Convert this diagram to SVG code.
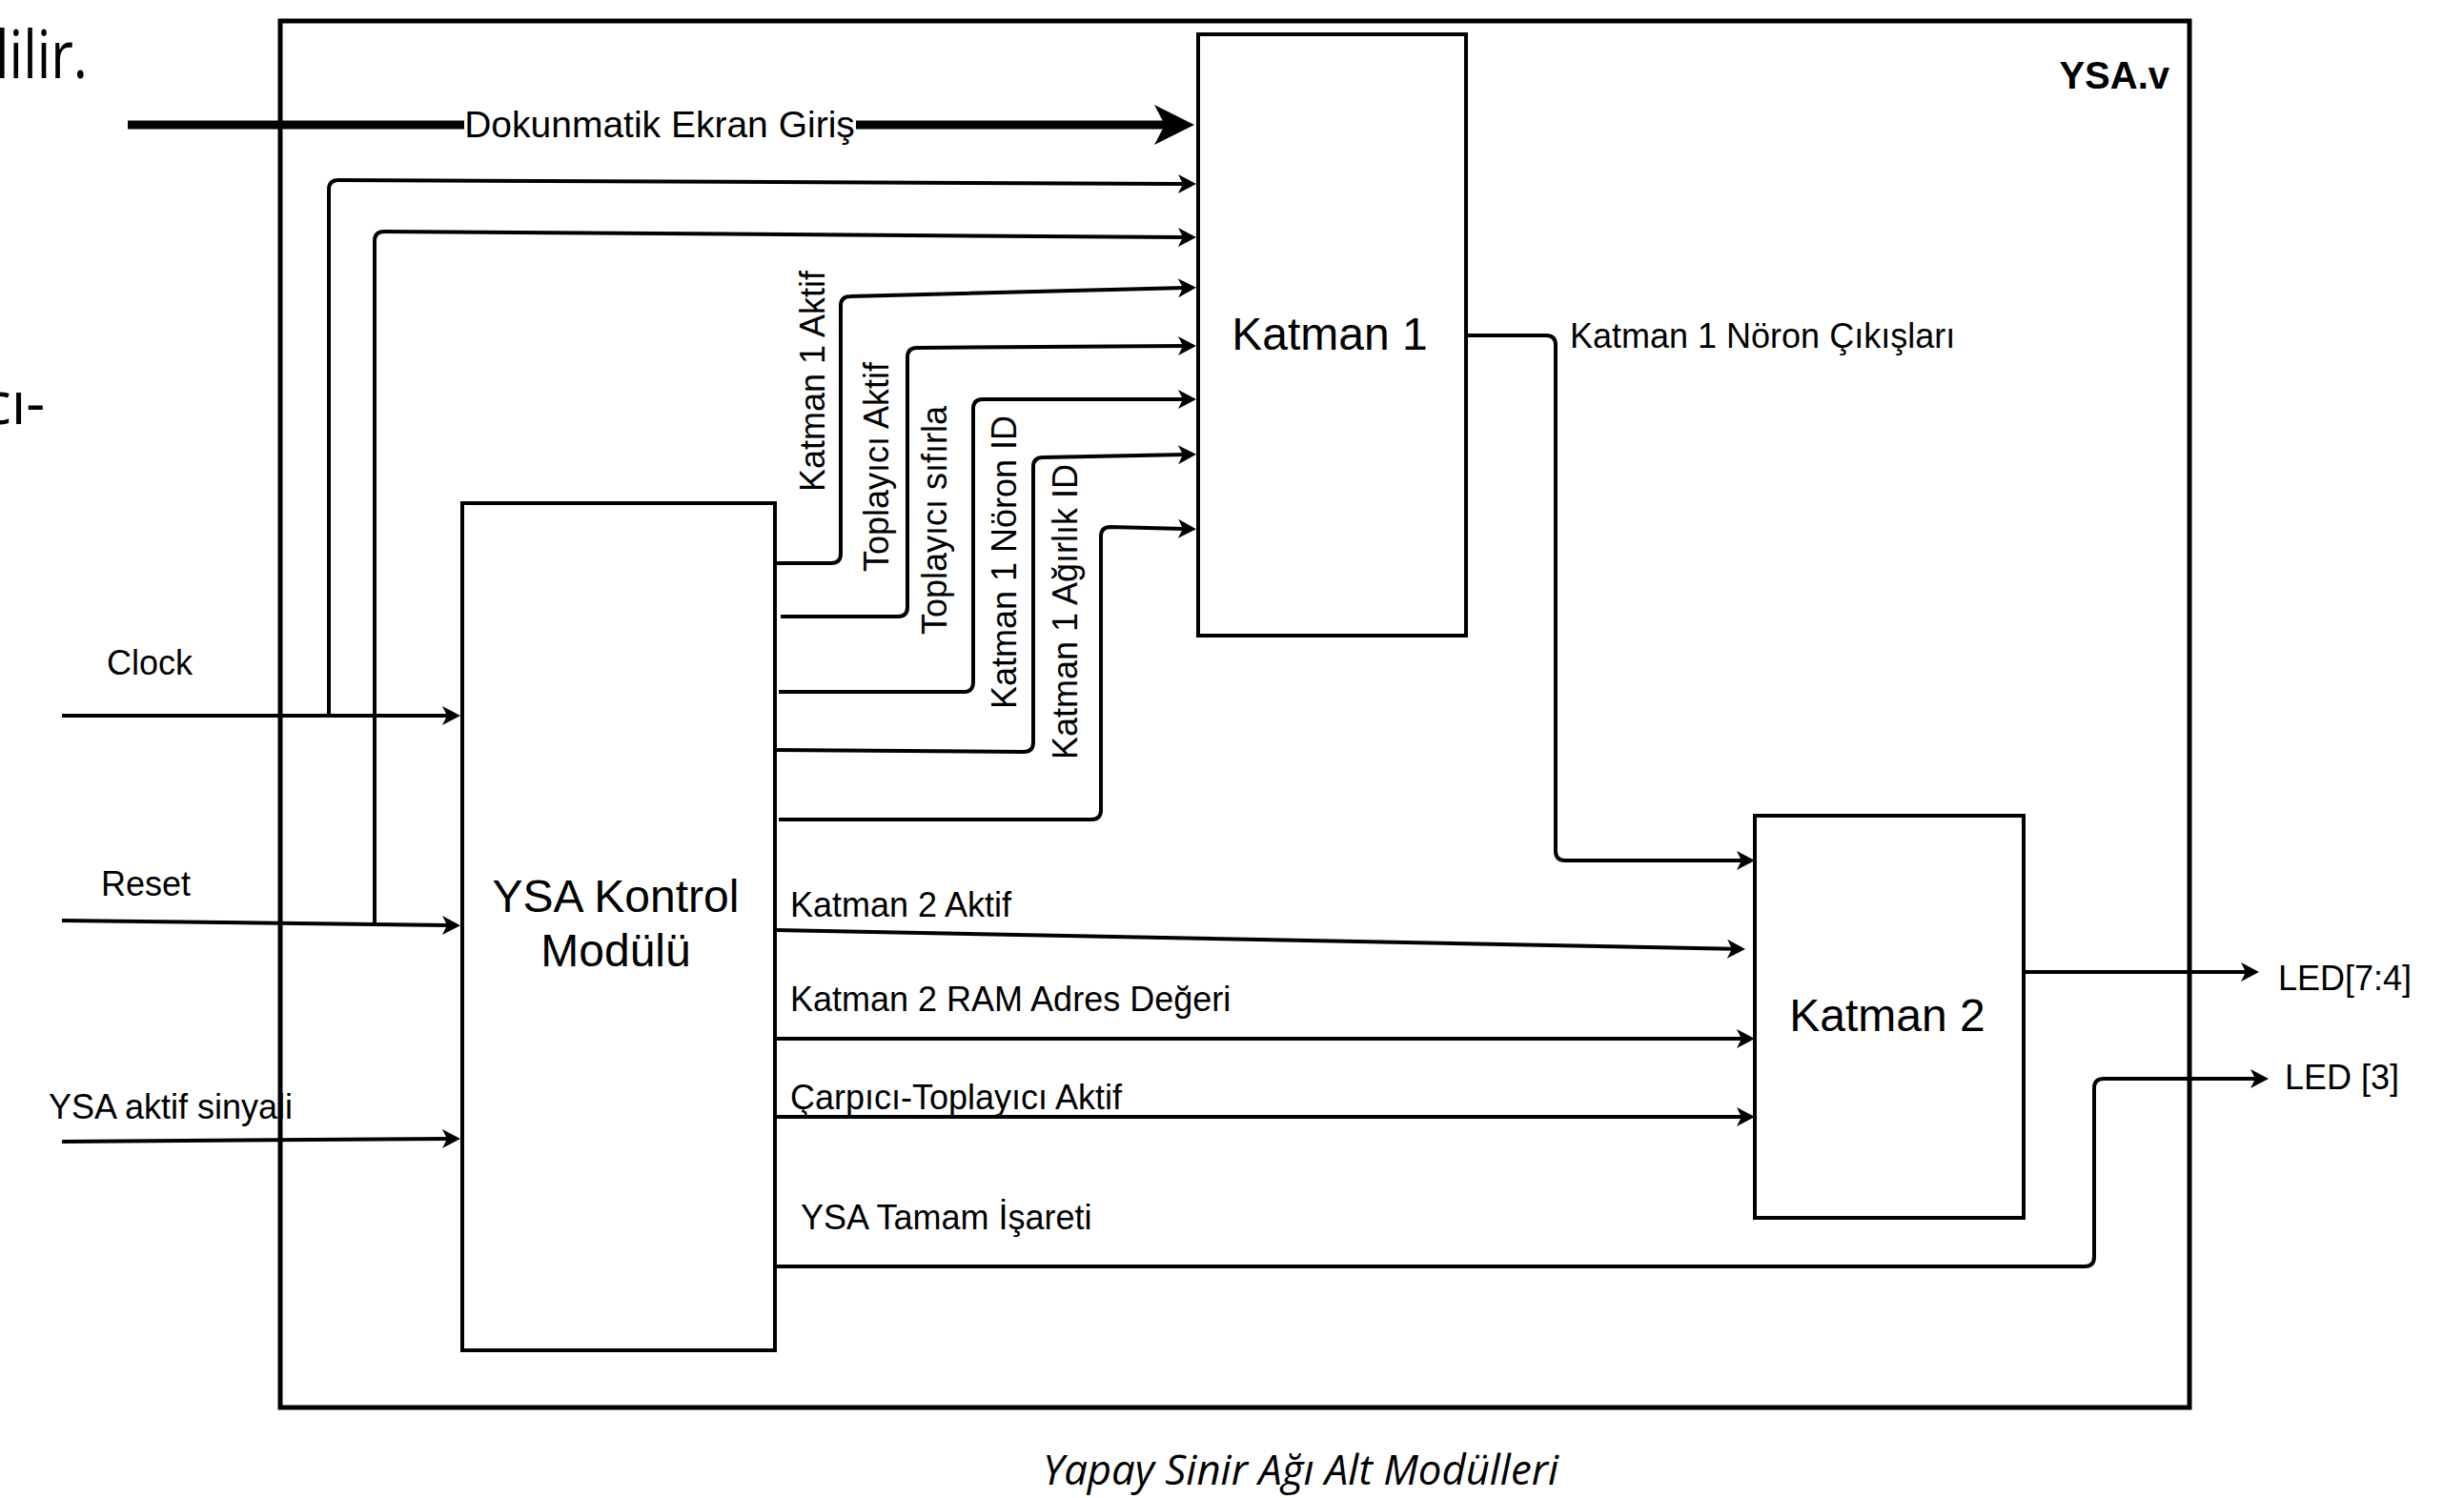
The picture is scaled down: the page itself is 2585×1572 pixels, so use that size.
<svg xmlns="http://www.w3.org/2000/svg" width="2585" height="1572" viewBox="0 0 2585 1572">
<style>
.ln{fill:none;stroke:#000;stroke-width:4;stroke-linejoin:round}
.box{fill:#fff;stroke:#000;stroke-width:4}
.lbl{font-family:"Liberation Sans",Arial,sans-serif;font-size:36px;fill:#000}
.big{font-family:"Liberation Sans",Arial,sans-serif;font-size:48px;fill:#000}
.doc{font-family:"Open Sans","Noto Sans",sans-serif;fill:#000}
</style>
<defs>
<marker id="ah" viewBox="-21 -12 23 24" refX="-12" refY="0" markerWidth="23" markerHeight="24" markerUnits="userSpaceOnUse" orient="auto">
<path d="M0,0 L-19,-10 L-14,0 L-19,10 Z" fill="#000"/>
</marker>
<marker id="ahb" viewBox="-44 -23 46 46" refX="-30" refY="0" markerWidth="46" markerHeight="46" markerUnits="userSpaceOnUse" orient="auto">
<path d="M0,0 L-42,-21 L-31,0 L-42,21 Z" fill="#000"/>
</marker>
</defs>
<rect width="2585" height="1572" fill="#fff"/>

<!-- surrounding document text -->
<text class="doc" x="-5" y="82" font-size="70" textLength="97" lengthAdjust="spacingAndGlyphs">lilir.</text>
<text class="doc" x="-18" y="445" font-size="62">cı-</text>
<text class="doc" x="1094" y="1558" font-size="44" font-style="italic" textLength="541" lengthAdjust="spacingAndGlyphs">Yapay Sinir Ağı Alt Modülleri</text>

<!-- outer module -->
<g id="ysa_v">
<rect x="294" y="22" width="2003" height="1455" fill="none" stroke="#000" stroke-width="5"/>
<text x="2276" y="93" text-anchor="end" font-family="Liberation Sans,Arial,sans-serif" font-size="40" font-weight="bold">YSA.v</text>
</g>

<g id="katman1">
<rect class="box" x="1257" y="36" width="281" height="631"/>
<text class="big" x="1395" y="367" text-anchor="middle">Katman 1</text>
</g>

<g id="katman2">
<rect class="box" x="1841" y="856" width="282" height="422"/>
<text class="big" x="1980" y="1082" text-anchor="middle">Katman 2</text>
</g>

<g id="kontrol">
<rect class="box" x="485" y="528" width="328" height="889"/>
<text class="big" x="646" y="957" text-anchor="middle">YSA Kontrol</text>
<text class="big" x="646" y="1014" text-anchor="middle">Modülü</text>
</g>

<g id="connectors">
<!-- Dokunmatik Ekran Giris -->
<path d="M134,131 H1223" fill="none" stroke="#000" stroke-width="9" marker-end="url(#ahb)"/>
<rect x="487" y="110" width="411" height="42" fill="#fff"/>
<text class="lbl" x="692" y="144" text-anchor="middle" style="font-size:39px">Dokunmatik Ekran Giriş</text>

<!-- Clock -->
<path class="ln" d="M65,751 H471" marker-end="url(#ah)"/>
<path class="ln" d="M345,751 V199 Q345,189 355,189 L1243,193" marker-end="url(#ah)"/>
<text class="lbl" x="112" y="708">Clock</text>

<!-- Reset -->
<path class="ln" d="M65,966 L471,971" marker-end="url(#ah)"/>
<path class="ln" d="M393,969 V253 Q393,243 403,243 L1243,249" marker-end="url(#ah)"/>
<text class="lbl" x="106" y="940">Reset</text>

<!-- YSA aktif sinyali -->
<path class="ln" d="M65,1198 L471,1195" marker-end="url(#ah)"/>
<text class="lbl" x="51" y="1174">YSA aktif sinyali</text>

<!-- Katman 1 inputs from control -->
<path class="ln" d="M813,591 H872 Q882,591 882,581 V321 Q882,311 892,311 L1243,302" marker-end="url(#ah)"/>
<path class="ln" d="M819,647 H942 Q952,647 952,637 V375 Q952,365 962,365 L1243,363" marker-end="url(#ah)"/>
<path class="ln" d="M817,726 H1011 Q1021,726 1021,716 V429 Q1021,419 1031,419 L1243,419" marker-end="url(#ah)"/>
<path class="ln" d="M814,787 L1074,789 Q1084,789 1084,779 V490 Q1084,480 1094,480 L1243,477" marker-end="url(#ah)"/>
<path class="ln" d="M817,860 H1145 Q1155,860 1155,850 V563 Q1155,553 1165,553 L1243,555" marker-end="url(#ah)"/>
<text class="lbl" transform="translate(865,400) rotate(-90)" text-anchor="middle">Katman 1 Aktif</text>
<text class="lbl" transform="translate(932,490) rotate(-90)" text-anchor="middle">Toplayıcı Aktif</text>
<text class="lbl" transform="translate(993,546) rotate(-90)" text-anchor="middle">Toplayıcı sıfırla</text>
<text class="lbl" transform="translate(1066,590) rotate(-90)" text-anchor="middle">Katman 1 Nöron ID</text>
<text class="lbl" transform="translate(1130,642) rotate(-90)" text-anchor="middle">Katman 1 Ağırlık ID</text>

<!-- Katman 1 -> Katman 2 -->
<path class="ln" d="M1538,352 H1622 Q1632,352 1632,362 V893 Q1632,903 1642,903 H1829" marker-end="url(#ah)"/>
<text class="lbl" x="1647" y="365">Katman 1 Nöron Çıkışları</text>

<!-- Control -> Katman 2 -->
<path class="ln" d="M813,976 L1819,995.8" marker-end="url(#ah)"/>
<text class="lbl" x="829" y="962">Katman 2 Aktif</text>
<path class="ln" d="M813,1090 H1829" marker-end="url(#ah)"/>
<text class="lbl" x="829" y="1061">Katman 2 RAM Adres Değeri</text>
<path class="ln" d="M813,1172 H1829" marker-end="url(#ah)"/>
<text class="lbl" x="829" y="1164">Çarpıcı-Toplayıcı Aktif</text>

<!-- YSA Tamam -> LED [3] -->
<path class="ln" d="M813,1329 H2187 Q2197,1329 2197,1319 V1142 Q2197,1132 2207,1132 H2368" marker-end="url(#ah)"/>
<text class="lbl" x="840" y="1290">YSA Tamam İşareti</text>
<text class="lbl" x="2397" y="1143">LED [3]</text>

<!-- Katman 2 -> LED[7:4] -->
<path class="ln" d="M2123,1020 H2358" marker-end="url(#ah)"/>
<text class="lbl" x="2390" y="1039">LED[7:4]</text>
</g>
</svg>
